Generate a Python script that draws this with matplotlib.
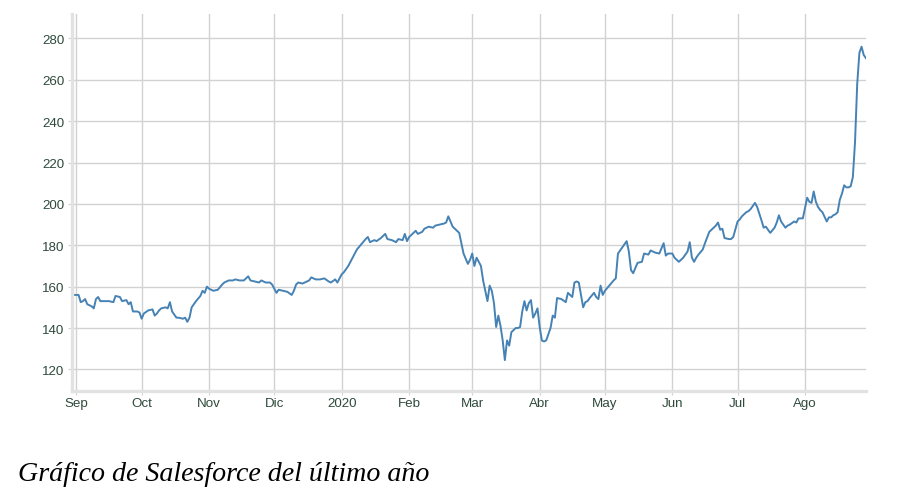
import matplotlib
matplotlib.use("Agg")
import matplotlib.pyplot as plt
import pandas as pd

# ---- data ----
dates = [
    # Sep 2019
    "2019-08-30", "2019-09-01", "2019-09-02", "2019-09-03", "2019-09-04", "2019-09-05", "2019-09-06",
    "2019-09-08", "2019-09-09", "2019-09-10", "2019-09-11", "2019-09-12", "2019-09-14", "2019-09-16",
    "2019-09-18", "2019-09-19", "2019-09-21", "2019-09-22", "2019-09-24", "2019-09-25", "2019-09-26",
    "2019-09-27", "2019-09-29", "2019-09-30",
    # Oct
    "2019-10-01", "2019-10-02", "2019-10-04", "2019-10-06", "2019-10-07", "2019-10-08", "2019-10-09",
    "2019-10-10", "2019-10-12", "2019-10-13", "2019-10-14", "2019-10-15", "2019-10-17", "2019-10-18",
    "2019-10-20", "2019-10-21", "2019-10-22", "2019-10-23", "2019-10-24", "2019-10-26", "2019-10-28",
    "2019-10-29", "2019-10-30", "2019-10-31",
    # Nov
    "2019-11-01", "2019-11-03", "2019-11-05", "2019-11-07", "2019-11-08", "2019-11-10", "2019-11-12",
    "2019-11-13", "2019-11-15", "2019-11-17", "2019-11-19", "2019-11-20", "2019-11-22", "2019-11-24",
    "2019-11-25", "2019-11-27", "2019-11-29", "2019-11-30",
    # Dec
    "2019-12-02", "2019-12-03", "2019-12-05", "2019-12-07", "2019-12-09", "2019-12-10", "2019-12-11",
    "2019-12-12", "2019-12-14", "2019-12-15", "2019-12-17", "2019-12-18", "2019-12-20", "2019-12-22",
    "2019-12-24", "2019-12-26", "2019-12-27", "2019-12-29", "2019-12-30",
    # Jan 2020
    "2020-01-01", "2020-01-02", "2020-01-04", "2020-01-06", "2020-01-08", "2020-01-10", "2020-01-12",
    "2020-01-13", "2020-01-14", "2020-01-16", "2020-01-17", "2020-01-19", "2020-01-21", "2020-01-22",
    "2020-01-24", "2020-01-26", "2020-01-27", "2020-01-29", "2020-01-30", "2020-01-31",
    # Feb
    "2020-02-01", "2020-02-03", "2020-02-04", "2020-02-05", "2020-02-07", "2020-02-08", "2020-02-10",
    "2020-02-12", "2020-02-13", "2020-02-15", "2020-02-17", "2020-02-18", "2020-02-19", "2020-02-21",
    "2020-02-23", "2020-02-24", "2020-02-25", "2020-02-26", "2020-02-28", "2020-02-29",
    # Mar
    "2020-03-01", "2020-03-02", "2020-03-03", "2020-03-04", "2020-03-05", "2020-03-06", "2020-03-07",
    "2020-03-08", "2020-03-09", "2020-03-10", "2020-03-11", "2020-03-12", "2020-03-13", "2020-03-14",
    "2020-03-15", "2020-03-16", "2020-03-17", "2020-03-18", "2020-03-19", "2020-03-21", "2020-03-22",
    "2020-03-23", "2020-03-24", "2020-03-25", "2020-03-26", "2020-03-27", "2020-03-28", "2020-03-29",
    "2020-03-30", "2020-03-31",
    # Apr
    "2020-04-01", "2020-04-02", "2020-04-03", "2020-04-04", "2020-04-05", "2020-04-06", "2020-04-07",
    "2020-04-08", "2020-04-09", "2020-04-11", "2020-04-13", "2020-04-14", "2020-04-16", "2020-04-17",
    "2020-04-18", "2020-04-19", "2020-04-21", "2020-04-22", "2020-04-23", "2020-04-24", "2020-04-26",
    "2020-04-27", "2020-04-28", "2020-04-29", "2020-04-30",
    # May
    "2020-05-01", "2020-05-03", "2020-05-05", "2020-05-06", "2020-05-07", "2020-05-09", "2020-05-11",
    "2020-05-12", "2020-05-13", "2020-05-14", "2020-05-15", "2020-05-16", "2020-05-18", "2020-05-19",
    "2020-05-21", "2020-05-22", "2020-05-24", "2020-05-26", "2020-05-28", "2020-05-29", "2020-05-30",
    # Jun
    "2020-06-01", "2020-06-02", "2020-06-04", "2020-06-06", "2020-06-07", "2020-06-08", "2020-06-09",
    "2020-06-10", "2020-06-11", "2020-06-12", "2020-06-13", "2020-06-15", "2020-06-16", "2020-06-18",
    "2020-06-19", "2020-06-21", "2020-06-22", "2020-06-23", "2020-06-24", "2020-06-25", "2020-06-27",
    "2020-06-28", "2020-06-29",
    # Jul
    "2020-07-01", "2020-07-02", "2020-07-03", "2020-07-05", "2020-07-06", "2020-07-07", "2020-07-09",
    "2020-07-10", "2020-07-12", "2020-07-13", "2020-07-14", "2020-07-15", "2020-07-16", "2020-07-18",
    "2020-07-19", "2020-07-20", "2020-07-21", "2020-07-22", "2020-07-23", "2020-07-24", "2020-07-25",
    "2020-07-27", "2020-07-28", "2020-07-29", "2020-07-31",
    # Aug
    "2020-08-01", "2020-08-02", "2020-08-03", "2020-08-04", "2020-08-05", "2020-08-06", "2020-08-07",
    "2020-08-08", "2020-08-09", "2020-08-11", "2020-08-12", "2020-08-13", "2020-08-14", "2020-08-15",
    "2020-08-16", "2020-08-17", "2020-08-18", "2020-08-19", "2020-08-20", "2020-08-21", "2020-08-22",
    "2020-08-23", "2020-08-24", "2020-08-25", "2020-08-26", "2020-08-27", "2020-08-28", "2020-08-29",
]

prices = [
    # Sep 2019
    156, 156, 156, 152.5, 153, 154, 151.5,
    150.5, 149.5, 154, 155, 153, 153, 153,
    152.5, 155.5, 155, 153, 153.5, 151.5, 152.5,
    148, 148, 147.5,
    # Oct
    144.5, 147, 148.5, 149, 146, 147, 148.5,
    149.5, 150, 149.5, 152.5, 148, 145, 145,
    144.5, 145, 143, 145, 150, 153, 155.5,
    158, 157, 160,
    # Nov
    159, 158, 158.5, 161, 162, 163, 163,
    163.5, 163, 163, 165, 163, 162.5, 162,
    163, 162, 162, 161,
    # Dec
    157, 158.5, 158, 157.5, 156, 158, 161,
    162, 161.5, 162, 163, 164.5, 163.5, 163.5,
    164, 162.5, 162, 163.5, 162,
    # Jan 2020
    166, 167, 170, 174, 178, 180.5, 183,
    184, 181.5, 182.5, 182, 183.5, 185.5, 183,
    182.5, 181.5, 183, 182.5, 185.5, 182,
    # Feb
    184, 186, 187, 185.5, 186.5, 188, 189,
    188.5, 189.5, 190, 190.5, 191, 194, 189,
    187, 186, 181, 176, 171, 173,
    # Mar
    176, 170, 174, 172, 170, 163, 158,
    153, 160.5, 158, 152, 140.5, 146, 141,
    134, 124.5, 134, 131.5, 138, 140, 140,
    140.5, 148, 153, 148.5, 152, 153.5, 145,
    147, 149.5,
    # Apr
    140.5, 134, 133.5, 134, 137, 140, 146,
    145, 154.5, 154, 152.5, 157, 155, 162,
    162.5, 162, 150, 152.5, 153, 154.5, 157,
    155, 154, 160.5, 156,
    # May
    158, 160.5, 163, 164, 176, 179, 182,
    177, 168, 166.5, 169, 171.5, 172, 176,
    175.5, 177.5, 176.5, 176, 181, 175, 176,
    # Jun
    176, 174, 172, 174, 175.5, 177, 181.5,
    174, 172, 174, 175.5, 178, 181, 186.5,
    187.5, 189.5, 191, 187.5, 188, 183.5, 183,
    183, 184,
    # Jul
    191.5, 192.5, 194, 196, 196.5, 197.5, 200.5,
    198.5, 192, 188.5, 189, 187.5, 186, 188.5,
    191, 194.5, 191.5, 190, 188.5, 189.5, 190,
    191.5, 191, 193, 193,
    # Aug
    198, 203, 201, 200.5, 206, 201, 198.5,
    197, 196, 191.5, 193.5, 193.5, 194.5, 195,
    196, 202, 205, 209, 208, 208, 208.5,
    213, 230, 258, 273, 276, 272, 270.5,
]

y_ticks = [120, 140, 160, 180, 200, 220, 240, 260, 280]
month_ticks = ["2019-09-01", "2019-10-01", "2019-11-01", "2019-12-01", "2020-01-01", "2020-02-01",
               "2020-03-01", "2020-04-01", "2020-05-01", "2020-06-01", "2020-07-01", "2020-08-01"]
month_labels = ["Sep", "Oct", "Nov", "Dic", "2020", "Feb", "Mar", "Abr", "May", "Jun", "Jul", "Ago"]
caption = "Gráfico de Salesforce del último año"

# ---- figure ----
x = pd.to_datetime(dates)
fig = plt.figure(figsize=(9.05, 5.02), dpi=100)
ax = fig.add_axes([71.5 / 905, 1 - 391.5 / 502, (866 - 71.5) / 905, (391.5 - 15) / 502])

ax.plot(x, prices, color="#4682b4", linewidth=1.4, solid_joinstyle="round")

ax.set_ylim(109.8, 291.8)
ax.set_xlim(pd.Timestamp("2019-08-29 18:00"), pd.Timestamp("2020-08-29 01:00"))
ax.set_yticks(y_ticks)
ax.set_xticks(pd.to_datetime(month_ticks))
ax.set_xticklabels(month_labels)

grid_c = "#d2d2d2"
ax.grid(True, color=grid_c, linewidth=1.0)
ax.set_axisbelow(True)
for s in ["top", "right"]:
    ax.spines[s].set_visible(False)
for s in ["left", "bottom"]:
    ax.spines[s].set_color("#e2e2e2")
    ax.spines[s].set_linewidth(2.4)

ax.tick_params(axis="both", length=3, width=0.8, color=grid_c,
               labelcolor="#2f4a3c", labelsize=9.6)
ax.tick_params(axis="y", pad=2)
ax.tick_params(axis="x", pad=2)
for lab in ax.get_xticklabels() + ax.get_yticklabels():
    lab.set_fontfamily("Liberation Sans")

fig.text(18 / 905, 1 - 481 / 502, caption, fontsize=20.2, style="italic",
         family="Liberation Serif", color="black", va="baseline", ha="left")

fig.savefig("out.png", dpi=100, facecolor="white")
